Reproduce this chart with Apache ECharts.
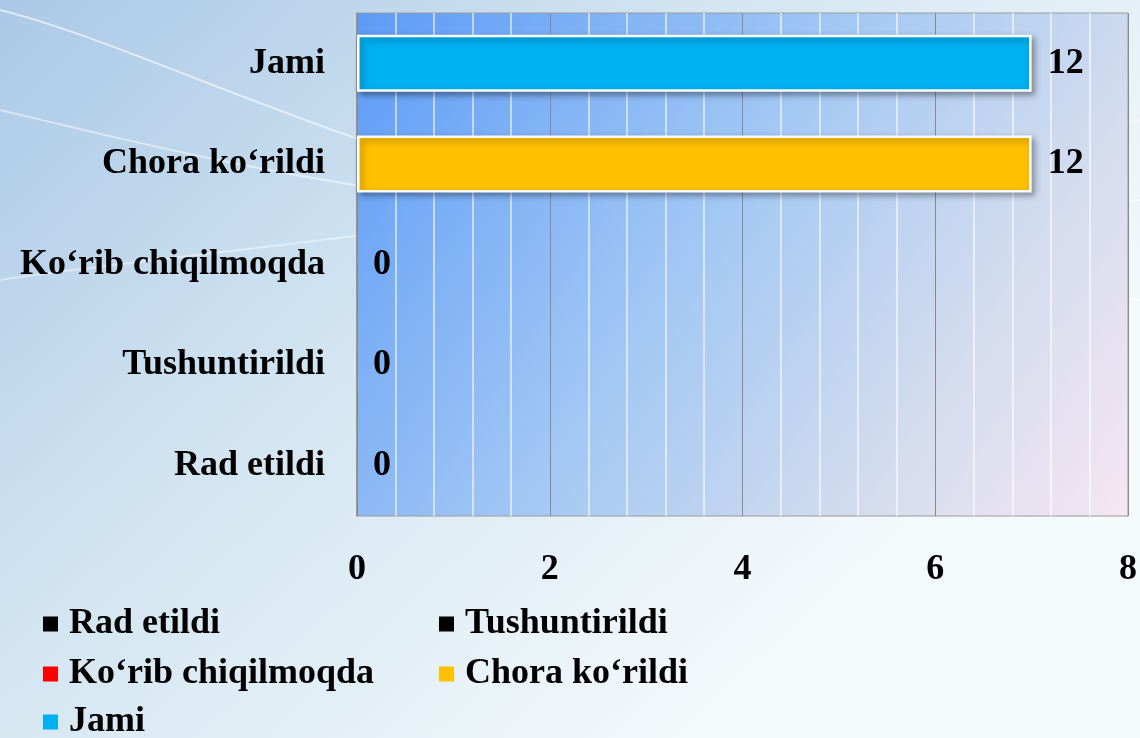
<!DOCTYPE html>
<html>
<head>
<meta charset="utf-8">
<script src="https://cdn.jsdelivr.net/npm/echarts@6/dist/echarts.min.js"></script>
<style>
html,body{margin:0;padding:0;width:1140px;height:738px;overflow:hidden;}
#chart{width:1140px;height:738px;}
</style>
</head>
<body>
<div id="chart"></div>
<script>
// Categories (bottom to top as drawn)
const categories = ['Rad etildi', 'Tushuntirildi', 'Ko\u2018rib chiqilmoqda', 'Chora ko\u2018rildi', 'Jami'];
// Bar lengths
const barValues = [0, 0, 0, 7, 7];
// Values printed as data labels
const labelValues = [0, 0, 0, 12, 12];
const colors = ['#000000', '#000000', '#ff0000', '#ffc000', '#00b0f0'];
const xTicks = { min: 0, max: 8, interval: 2 };

const FONT = '"Liberation Serif", "Times New Roman", serif';

const chart = echarts.init(document.getElementById('chart'), null, { renderer: 'canvas' });

const series = categories.map((name, i) => ({
  name: name,
  type: 'bar',
  stack: 'all',
  barWidth: 57,
  itemStyle: {
    color: colors[i],
    borderColor: '#ffffff',
    borderWidth: barValues[i] > 0 ? 2.5 : 0,
    shadowBlur: barValues[i] > 0 ? 6 : 0,
    shadowOffsetX: 3,
    shadowOffsetY: 3,
    shadowColor: 'rgba(0,0,0,0.35)'
  },
  label: {
    show: true,
    position: 'right',
    distance: 16,
    color: '#000',
    fontFamily: FONT,
    fontWeight: 'bold',
    fontSize: 36,
    formatter: () => String(labelValues[i])
  },
  data: categories.map((c, j) => (j === i ? barValues[i] : '-'))
}));

const legendPos = [
  { left: 43, top: 606 },
  { left: 439, top: 606 },
  { left: 43, top: 656 },
  { left: 439, top: 656 },
  { left: 43, top: 704 }
];
const legends = categories.map((name, i) => ({
  data: [{ name: name, itemStyle: { color: colors[i], borderWidth: 0, shadowBlur: 0 } }],
  left: legendPos[i].left,
  top: legendPos[i].top,
  orient: 'horizontal',
  itemWidth: 15,
  itemHeight: 15,
  icon: 'rect',
  padding: 0,
  selectedMode: false,
  textStyle: {
    color: '#000',
    fontFamily: FONT,
    fontWeight: 'bold',
    fontSize: 36,
    padding: [0, 0, 0, 6]
  }
}));

const option = {
  backgroundColor: new echarts.graphic.LinearGradient(0, 0, 0.6, 1, [
    { offset: 0, color: '#aac8e6' },
    { offset: 0.5, color: '#d4e6f2' },
    { offset: 1, color: '#f4f9fb' }
  ]),
  animation: false,
  graphic: [
    { type: 'bezierCurve', silent: true, z: -10,
      shape: { x1: 0, y1: 10, cpx1: 200, cpy1: 60, cpx2: 500, cpy2: 250, x2: 1140, y2: 300 },
      style: { stroke: 'rgba(255,255,255,0.6)', lineWidth: 2, fill: null } },
    { type: 'bezierCurve', silent: true, z: -10,
      shape: { x1: 0, y1: 110, cpx1: 250, cpy1: 170, cpx2: 600, cpy2: 260, x2: 1140, y2: 200 },
      style: { stroke: 'rgba(255,255,255,0.5)', lineWidth: 2, fill: null } },
    { type: 'bezierCurve', silent: true, z: -10,
      shape: { x1: 0, y1: 280, cpx1: 200, cpy1: 250, cpx2: 500, cpy2: 230, x2: 1140, y2: 120 },
      style: { stroke: 'rgba(255,255,255,0.45)', lineWidth: 2, fill: null } }
  ],
  grid: {
    left: 357,
    right: 10,
    top: 13,
    bottom: 222,
    show: true,
    borderColor: '#9a9a9a',
    borderWidth: 1,
    backgroundColor: new echarts.graphic.LinearGradient(0, 0, 1, 1, [
      { offset: 0, color: '#5c9bf7' },
      { offset: 0.45, color: '#a3c8f4' },
      { offset: 0.75, color: '#d3dcee' },
      { offset: 1, color: '#f6e6f3' }
    ])
  },
  legend: legends,
  xAxis: {
    type: 'value',
    min: xTicks.min,
    max: xTicks.max,
    interval: xTicks.interval,
    axisLine: { show: false },
    axisTick: { show: false },
    axisLabel: {
      margin: 36,
      color: '#000',
      fontFamily: FONT,
      fontWeight: 'bold',
      fontSize: 36
    },
    splitLine: { show: true, lineStyle: { color: '#8a8a8a', width: 1 } },
    minorTick: { show: true, splitNumber: 5, length: 0, lineStyle: { width: 0 } },
    minorSplitLine: { show: true, lineStyle: { color: 'rgba(255,255,255,0.75)', width: 1.5 } }
  },
  yAxis: {
    type: 'category',
    data: categories,
    axisLine: { show: true, lineStyle: { color: '#8a8a8a', width: 1.5 } },
    axisTick: { show: false },
    axisLabel: {
      margin: 32,
      color: '#000',
      fontFamily: FONT,
      fontWeight: 'bold',
      fontSize: 36
    },
    splitLine: { show: false }
  },
  series: series
};

chart.setOption(option);
</script>
</body>
</html>
